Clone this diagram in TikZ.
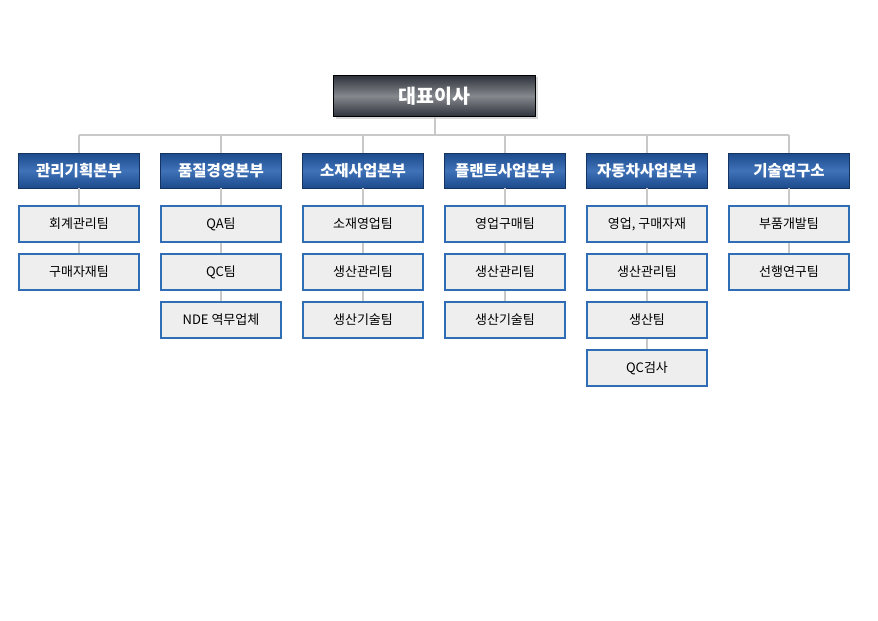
\documentclass[tikz,border=0pt]{standalone}
\usepackage{fontspec}
\setmainfont{Noto Sans CJK KR}
\definecolor{ceodark}{HTML}{2E323B}
\definecolor{ceomid}{HTML}{85888D}
\definecolor{deptdark}{HTML}{1C4A8C}
\definecolor{deptmid}{HTML}{3F72B8}
\definecolor{teamline}{HTML}{2F6EB5}
\definecolor{teamfill}{HTML}{EEEEEE}
\definecolor{link}{HTML}{C8C8C8}

\begin{document}
\begin{tikzpicture}[x=1pt,y=-1pt,
  ceobox/.style={draw=black,line width=1.5pt,top color=ceodark,bottom color=ceodark,
    middle color=ceomid,minimum width=202pt,minimum height=41pt,
    text=white,font=\fontsize{19.5}{22}\selectfont\bfseries},
  deptbox/.style={draw=deptdark!70!black,line width=0.6pt,top color=deptdark,bottom color=deptdark,
    middle color=deptmid,minimum width=121pt,minimum height=35pt,
    text=white,font=\fontsize{15.5}{18}\selectfont\bfseries},
  teambox/.style={draw=teamline,line width=1.8pt,fill=teamfill,
    minimum width=120pt,minimum height=36pt,
    font=\fontsize{13}{15}\selectfont},
  wire/.style={draw=link,line width=2pt}]
  \useasboundingbox (0,0) rectangle (878,621);

  % head of the company
  \fill[black!15] (336,77) rectangle (538,119);
  \node[ceobox] (ceo) at (434.5,96) {대표이사};
  \coordinate (bus) at (434.5,135);

  % divisions
  \node[deptbox] (d1) at (79,170.5)  {관리기획본부};
  \node[deptbox] (d2) at (221,170.5) {품질경영본부};
  \node[deptbox] (d3) at (363,170.5) {소재사업본부};
  \node[deptbox] (d4) at (505,170.5) {플랜트사업본부};
  \node[deptbox] (d5) at (647,170.5) {자동차사업본부};
  \node[deptbox] (d6) at (789,170.5) {기술연구소};

  \draw[wire] (ceo.south) -- (bus);
  \draw[wire] (d1.north |- bus) -- (d6.north |- bus);
  \foreach \i in {1,...,6}
    \draw[wire] (d\i.north |- bus) -- (d\i.north);

  % teams
  \foreach \j/\t in {1/회계관리팀,2/구매자재팀}
    \node[teambox] (t1-\j) at (79,{176+48*\j}) {\t};
  \foreach \j/\t in {1/QA팀,2/QC팀,3/NDE 역무업체}
    \node[teambox] (t2-\j) at (221,{176+48*\j}) {\t};
  \foreach \j/\t in {1/소재영업팀,2/생산관리팀,3/생산기술팀}
    \node[teambox] (t3-\j) at (363,{176+48*\j}) {\t};
  \foreach \j/\t in {1/영업구매팀,2/생산관리팀,3/생산기술팀}
    \node[teambox] (t4-\j) at (505,{176+48*\j}) {\t};
  \foreach \j/\t in {1/{영업, 구매자재},2/생산관리팀,3/생산팀,4/QC검사}
    \node[teambox] (t5-\j) at (647,{176+48*\j}) {\t};
  \foreach \j/\t in {1/부품개발팀,2/선행연구팀}
    \node[teambox] (t6-\j) at (789,{176+48*\j}) {\t};

  % links down each column
  \foreach \i/\n in {1/2,2/3,3/3,4/3,5/4,6/2}{
    \draw[wire] (d\i.south) -- (t\i-1.north);
    \foreach \j [evaluate=\j as \k using int(\j-1)] in {2,...,\n}
      \draw[wire] (t\i-\k.south) -- (t\i-\j.north);
  }
\end{tikzpicture}
\end{document}
